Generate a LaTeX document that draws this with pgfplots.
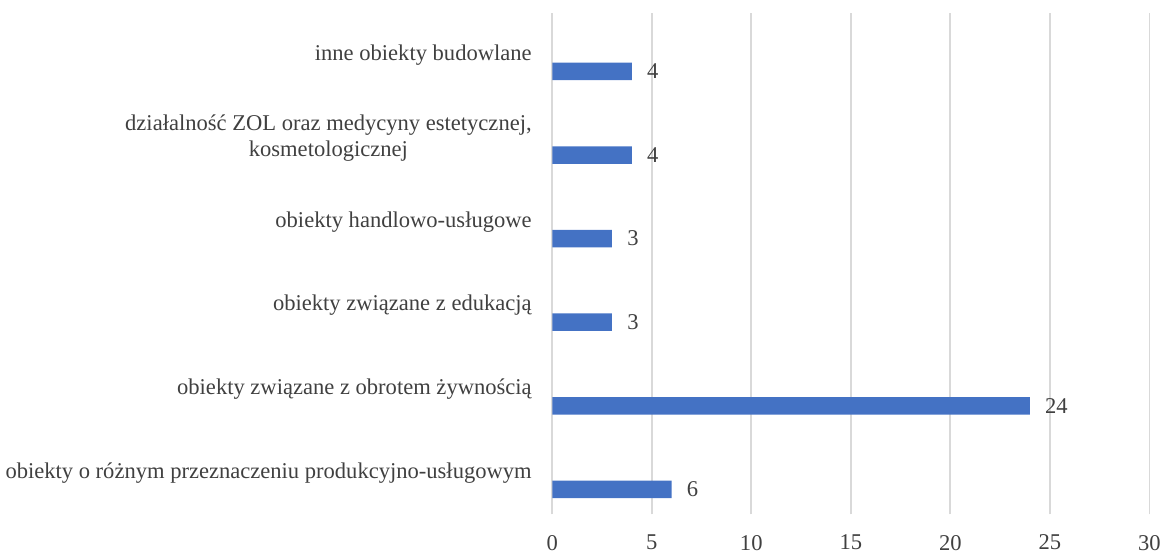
\documentclass[border=0pt]{standalone}
\usepackage{fontspec}
\setmainfont{Liberation Serif}
\usepackage{pgfplots}
\pgfplotsset{compat=1.18}
\definecolor{barblue}{HTML}{4472C4}
\definecolor{gridgray}{HTML}{D9D9D9}
\definecolor{txt}{HTML}{404040}
\pgfplotstableread{
val pos
6 0
24 1
3 2
3 3
4 4
4 5
}\mydata
\begin{document}
\begin{tikzpicture}
\begin{axis}[
 scale only axis, width=450pt, height=378pt,
 xbar, bar width=0.21, bar shift=-0.2,
 xmin=0, xmax=30, ymin=-0.5, ymax=5.5,
 xtick={0,5,...,30}, ytick={0,...,5},
 yticklabels={{obiekty o różnym przeznaczeniu produkcyjno-usługowym},{obiekty związane z obrotem żywnością},{obiekty związane z edukacją},{obiekty handlowo-usługowe},{działalność ZOL oraz medycyny estetycznej,\\kosmetologicznej},{inne obiekty budowlane}},
 axis line style={draw=none},
 major tick length=0pt,
 xmajorgrids, grid style={gridgray, line width=1.2pt},
 tick label style={font=\fontsize{17}{19.5}\selectfont, text=txt},
 yticklabel style={align=center, xshift=-12pt},
 xticklabel style={yshift=-12pt},
 /pgf/number format/assume math mode=true,
 nodes near coords,
 nodes near coords style={font=\fontsize{17}{19.5}\selectfont, text=txt, anchor=west, xshift=8pt},
]
\addplot[fill=barblue, draw=none] table[x=val, y=pos] {\mydata};
\end{axis}
\path ([xshift=-416.25pt, yshift=-26.25pt] current axis.south west) rectangle ([xshift=7.5pt, yshift=9.75pt] current axis.north east);
\end{tikzpicture}
\end{document}
